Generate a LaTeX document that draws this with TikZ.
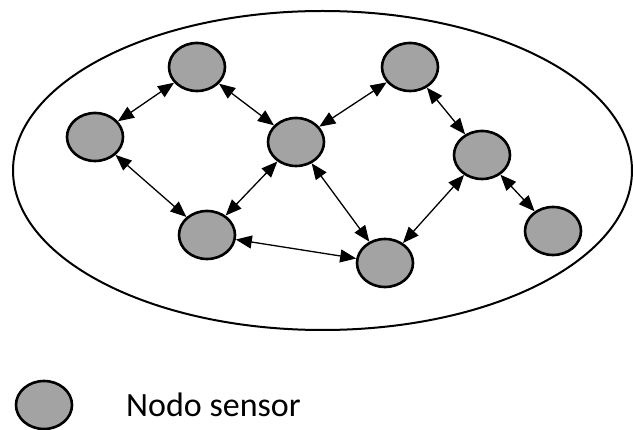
\documentclass[tikz,border=0pt]{standalone}
\usepackage{fontspec}
\setmainfont{Carlito}
\usetikzlibrary{shapes.geometric,arrows.meta}
\definecolor{nodegray}{RGB}{163,163,163}
\begin{document}
\begin{tikzpicture}[x=1pt,y=-1pt,
  sensor/.style={ellipse,draw=black,line width=2.6pt,fill=nodegray,
    minimum width=56pt,minimum height=48pt,inner sep=0pt},
  link/.style={{Triangle[length=16pt,width=13pt]}-{Triangle[length=16pt,width=13pt]},line width=1.3pt}]
\useasboundingbox (0,0) rectangle (633,430);
% field boundary
\draw[line width=2pt] (322.5,170.5) ellipse [x radius=309.5, y radius=159.5];
% sensor nodes
\node[sensor] (A) at (197,67) {};
\node[sensor] (B) at (95,137) {};
\node[sensor] (C) at (296,142) {};
\node[sensor] (D) at (207,235) {};
\node[sensor] (E) at (410,67) {};
\node[sensor] (F) at (482,155) {};
\node[sensor] (G) at (385,263) {};
\node[sensor] (H) at (553,231) {};
% links
\draw[link] (A) -- (B);
\draw[link] (A) -- (C);
\draw[link] (B) -- (D);
\draw[link] (D) -- (C);
\draw[link] (C) -- (E);
\draw[link] (C) -- (G);
\draw[link] (D) -- (G);
\draw[link] (E) -- (F);
\draw[link] (F) -- (G);
\draw[link] (F) -- (H);
% legend
\node[sensor] (L) at (44,405) {};
\node[anchor=base west,font=\fontsize{34}{38}\selectfont,inner sep=0pt] (Ltext) at (126,417) {Nodo sensor};
\end{tikzpicture}
\end{document}
